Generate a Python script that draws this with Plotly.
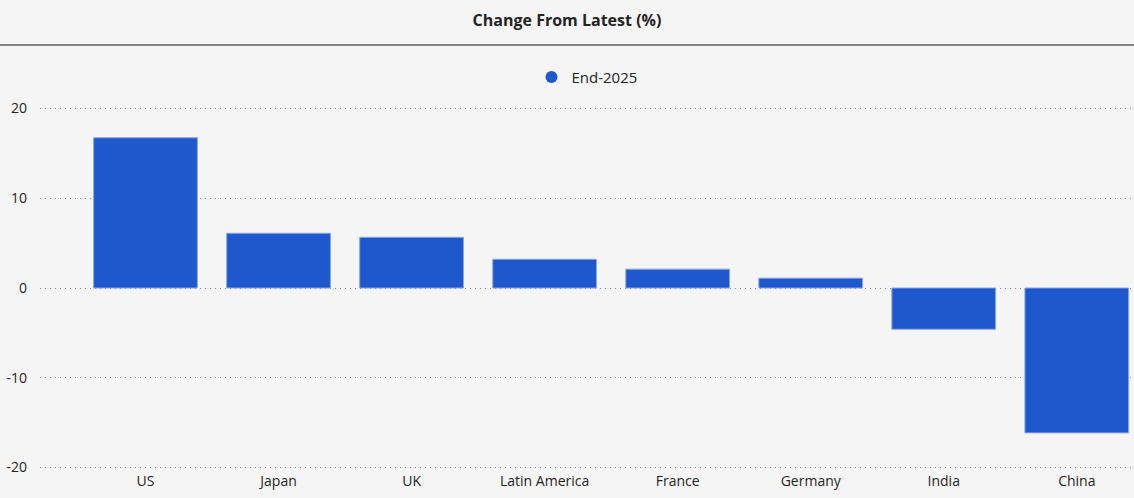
import plotly.graph_objects as go

categories = ["US", "Japan", "UK", "Latin America", "France", "Germany", "India", "China"]
values = [16.75, 6.1, 5.65, 3.2, 2.1, 1.1, -4.6, -16.15]
series_name = "End-2025"
y_ticks = [-20, -10, 0, 10, 20]
y_tick_labels = ["-20", "-10", "0", "10", "20"]

bar_color = "#1f58cc"
bg = "#f5f5f5"
font_family = "Open Sans, Noto Sans, sans-serif"

fig = go.Figure()
fig.add_trace(go.Bar(
    x=list(range(len(categories))), y=values, name=series_name,
    marker=dict(color=bar_color, line=dict(color="#8aa6e6", width=1)),
    showlegend=False, width=0.78,
))
fig.add_trace(go.Scatter(
    x=[None], y=[None], mode="markers", name=series_name,
    marker=dict(color=bar_color, size=12, symbol="circle"),
    showlegend=True,
))

ppu = (467.7 - 108.3) / 40.0
pad_u = 0.4
top_px = 108.3 - pad_u * ppu
bot_px = 467.7 + pad_u * ppu
plot_h = bot_px - top_px
line_y = (bot_px - 44.5) / plot_h

fig.update_layout(
    width=1134, height=498,
    paper_bgcolor=bg, plot_bgcolor=bg,
    margin=dict(l=40, r=0, t=top_px, b=498 - bot_px, pad=0),
    font=dict(family=font_family, size=14, color="#252423"),
    title=dict(text="<b>Change From Latest (%)</b>", x=0.5, xanchor="center",
               y=1 - 20 / 498, yanchor="middle",
               font=dict(size=16, color="#252423")),
    legend=dict(orientation="h", x=0.5, xanchor="center", y=1 + (top_px - 77) / plot_h,
                yanchor="middle", font=dict(size=15), itemwidth=30,
                bgcolor="rgba(0,0,0,0)"),
    xaxis=dict(
        tickmode="array", tickvals=list(range(len(categories))), ticktext=categories,
        range=[-0.793, 7.43], showgrid=False, zeroline=False, showline=False,
        ticks="", tickfont=dict(size=14),
    ),
    yaxis=dict(
        tickmode="array", tickvals=y_ticks, ticktext=y_tick_labels,
        range=[-20 - pad_u, 20 + pad_u],
        showgrid=True, gridcolor="#8a8a8a", griddash="1px,4px", gridwidth=1,
        zeroline=False, showline=False, ticks="", ticklabelstandoff=12,
        tickfont=dict(size=14),
    ),
    shapes=[dict(type="line", xref="paper", yref="paper", x0=-0.05, x1=1.05,
                 y0=line_y, y1=line_y, line=dict(color="#605e5c", width=1.5))],
)

fig.write_html("out.html", config={"displayModeBar": False},
               post_script="document.body.style.margin='0';document.body.style.background='#f5f5f5';")
